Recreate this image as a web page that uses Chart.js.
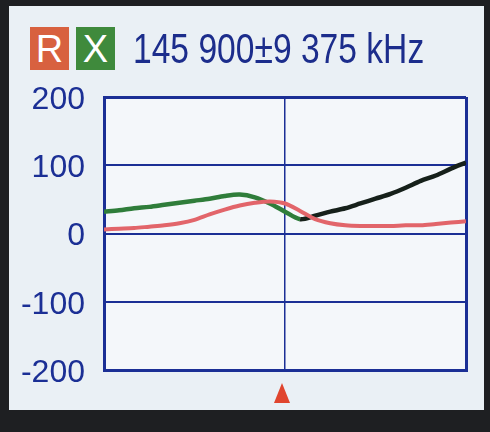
<!DOCTYPE html>
<html>
<head>
<meta charset="utf-8">
<script src="https://cdn.jsdelivr.net/npm/chart.js@4"></script>
<style>
  html, body { margin: 0; padding: 0; width: 490px; height: 432px; overflow: hidden; background: #1e1f22; }
  #screen { position: absolute; left: 9px; top: 6px; width: 475px; height: 404px; background: #eaf0f5; }
  #chartBox { position: absolute; left: 0; top: 0; width: 490px; height: 432px; }
  .hdr { position: absolute; top: 27px; height: 43px; font-family: "Liberation Sans", Arial, sans-serif; }
  .tag { width: 39px; color: #fff; font-size: 38px; line-height: 44px; text-align: center; }
  #tagR { left: 30px; background: #d8613f; }
  #tagX { left: 76px; background: #3f8a3c; }
  #freq { left: 133px; color: #1c2d8c; font-size: 42px; line-height: 44px; white-space: nowrap;
          transform: scaleX(0.8); transform-origin: left center; }
</style>
</head>
<body>
<div id="screen"></div>
<div id="chartBox"><canvas id="zChart" width="490" height="432"></canvas></div>
<div class="hdr tag" id="tagR">R</div>
<div class="hdr tag" id="tagX">X</div>
<div class="hdr" id="freq">145 900±9 375 kHz</div>
<script>
// sweep 145 900 ± 9 375 kHz
const centerFreq = 145900;
const spanHalf = 9375;
const freqs = [136525, 137306, 138088, 138869, 139650, 140431, 141213, 141994, 142775,
               143556, 144338, 145119, 145900, 146681, 147463, 148244, 149025, 149806,
               150588, 151369, 152150, 152931, 153713, 154494, 155275];
const rValues = [6, 7, 8, 10, 12, 15, 20, 28, 35, 41, 45, 47, 44, 33, 21, 15, 12, 11, 11, 11, 12, 12, 14, 16, 18];
const xValues = [32, 34, 37, 39, 42, 45, 48, 51, 55, 57, 53, 44, 32, 21, 26, 32, 37, 44, 51, 58, 67, 77, 85, 95, 104];
const yTicks = [-200, -100, 0, 100, 200];

const navy = '#1b2f95';
const green = '#2f7d3a';
const dark = '#16201a';
const red = '#e2656a';

const points = vals => freqs.map((f, i) => ({ x: f, y: vals[i] }));

// fill plot background + red marker under centre frequency
const screenPlugin = {
    id: 'screenPlugin',
    beforeDraw(chart) {
        const { ctx, chartArea: a } = chart;
        ctx.save();
        ctx.fillStyle = '#f4f7fa';
        ctx.fillRect(a.left, a.top, a.right - a.left, a.bottom - a.top);
        ctx.restore();
    },
    afterDraw(chart) {
        const { ctx, chartArea: a } = chart;
        const cx = chart.scales.x.getPixelForValue(centerFreq);
        ctx.save();
        ctx.fillStyle = '#e0452e';
        ctx.beginPath();
        ctx.moveTo(cx - 3, a.bottom + 13);
        ctx.lineTo(cx - 11, a.bottom + 33);
        ctx.lineTo(cx + 5, a.bottom + 33);
        ctx.closePath();
        ctx.fill();
        ctx.restore();
    }
};

new Chart(document.getElementById('zChart'), {
    type: 'line',
    data: {
        datasets: [
            { label: 'R', data: points(rValues), borderColor: red, borderWidth: 4, pointRadius: 0, tension: 0.3 },
            {
                label: 'X', data: points(xValues), borderColor: green, borderWidth: 4.5, pointRadius: 0, tension: 0.3,
                segment: { borderColor: c => c.p0.parsed.x >= freqs[13] ? dark : green }
            }
        ]
    },
    options: {
        responsive: false,
        animation: false,
        layout: { padding: { left: 0, top: 97, right: 24, bottom: 62 } },
        plugins: { legend: { display: false }, tooltip: { enabled: false } },
        scales: {
            x: {
                type: 'linear',
                min: centerFreq - spanHalf,
                max: centerFreq + spanHalf,
                afterBuildTicks: s => { s.ticks = [centerFreq - spanHalf, centerFreq, centerFreq + spanHalf].map(v => ({ value: v })); },
                afterFit: s => { s.height = 0; },
                ticks: { display: false },
                grid: { color: navy, lineWidth: c => c.index === 1 ? 1.5 : 3, drawTicks: false },
                border: { color: navy, width: 3 }
            },
            y: {
                min: -200,
                max: 200,
                afterBuildTicks: s => { s.ticks = yTicks.map(v => ({ value: v })); },
                afterFit: s => { s.width = 104; },
                ticks: {
                    color: navy,
                    padding: 19,
                    labelOffset: 3,
                    font: { family: '"Liberation Sans", Arial, sans-serif', size: 32 }
                },
                grid: { color: navy, lineWidth: c => (c.tick && Math.abs(c.tick.value) === 200) ? 3 : 2, drawTicks: false },
                border: { color: navy, width: 3 }
            }
        }
    },
    plugins: [screenPlugin]
});
</script>
</body>
</html>
